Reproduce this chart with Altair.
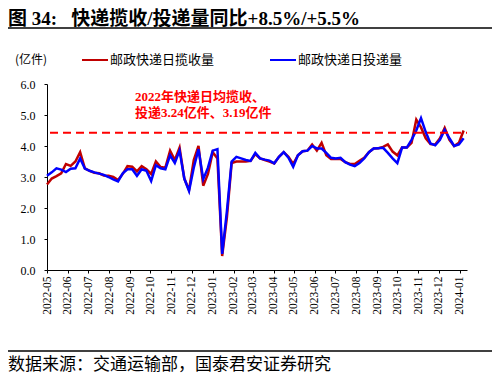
import altair as alt
import pandas as pd

# ---------------- data ----------------
start_date = "2022-05-01"
collect = [2.76, 2.95, 3.03, 3.12, 3.42, 3.36, 3.50, 3.80, 3.28, 3.20,
           3.14, 3.12, 3.05, 3.04, 3.00, 2.90, 3.10, 3.35, 3.33, 3.18,
           3.35, 3.25, 3.10, 3.50, 3.32, 3.30, 3.85, 3.55, 3.95, 2.95,
           2.58, 3.55, 4.00, 2.72, 3.10, 3.80, 3.60, 0.45, 1.70, 3.45,
           3.50, 3.50, 3.50, 3.52, 3.74, 3.60, 3.55, 3.50, 3.44, 3.65,
           3.80, 3.65, 3.42, 3.70, 3.83, 3.85, 4.05, 3.85, 4.10, 3.70,
           3.58, 3.58, 3.58, 3.48, 3.42, 3.42, 3.52, 3.62, 3.80, 3.92,
           3.93, 3.97, 4.05, 3.82, 3.70, 3.95, 3.95, 4.10, 4.85, 4.60,
           4.25, 4.06, 4.05, 4.25, 4.58, 4.20, 4.00, 4.10, 4.50]
deliver = [3.04, 3.15, 3.28, 3.24, 3.16, 3.27, 3.28, 3.60, 3.27, 3.20,
           3.15, 3.11, 3.07, 3.00, 2.92, 2.86, 3.12, 3.25, 3.25, 3.04,
           3.25, 3.20, 2.87, 3.38, 3.28, 3.25, 3.70, 3.45, 3.85, 2.95,
           2.55, 3.30, 3.90, 2.93, 3.30, 3.85, 3.90, 0.52, 1.90, 3.50,
           3.65, 3.60, 3.55, 3.52, 3.78, 3.60, 3.56, 3.53, 3.44, 3.65,
           3.80, 3.62, 3.33, 3.70, 3.83, 3.85, 4.00, 3.92, 3.92, 3.78,
           3.62, 3.60, 3.62, 3.48, 3.40, 3.35, 3.45, 3.60, 3.80, 3.92,
           3.93, 3.94, 3.78, 3.60, 3.45, 3.95, 3.95, 4.20, 4.50, 4.90,
           4.45, 4.08, 4.02, 4.20, 4.52, 4.25, 4.00, 4.05, 4.25]
month_ticks = [(2022, m) for m in range(5, 13)] + [(2023, m) for m in range(1, 13)] + [(2024, 1)]
y_ticks = [0, 1, 2, 3, 4, 5, 6]
ref_value = 4.43

series_names = ["邮政快递日揽收量", "邮政快递日投递量"]
title_text = "图\u00a034:\u00a0\u00a0\u00a0快递揽收/投递量同比+8.5%/+5.5%"
unit_text = "(亿件)"
note_line1 = "2022年快递日均揽收、"
note_line2 = "投递3.24亿件、3.19亿件"
source_text = "数据来源：交通运输部，国泰君安证券研究"

RED = "#C00000"
BLUE = "#0000FF"
SERIF = "Liberation Serif, Noto Sans CJK SC"
CJK = "Noto Sans CJK SC"

dates = pd.date_range(start_date, periods=len(collect), freq="7D")
df = pd.DataFrame({"date": dates, "collect": collect, "deliver": deliver})

W, H = 420, 186

x_enc = alt.X(
    "date:T",
    scale=alt.Scale(domain=[alt.DateTime(year=2022, month=5, date=1),
                            alt.DateTime(year=2024, month=1, date=12)]),
    axis=alt.Axis(values=[alt.DateTime(year=y, month=m, date=1) for y, m in month_ticks],
                  format="%Y-%m", labelAngle=-90, title=None, grid=False,
                  tickSize=3, labelPadding=3, labelFontSize=11.5),
)
y_axis = alt.Axis(values=y_ticks, format=".1f", title=None, grid=False,
                  tickSize=3, labelPadding=9, labelFontSize=12)
y_scale = alt.Scale(domain=[0, 6])

base = alt.Chart(df)
red_line = base.mark_line(color=RED, strokeWidth=2.5).encode(
    x=x_enc, y=alt.Y("collect:Q", scale=y_scale, axis=y_axis))
blue_line = base.mark_line(color=BLUE, strokeWidth=2.5).encode(
    x=x_enc, y=alt.Y("deliver:Q", scale=y_scale, axis=y_axis))

dash = alt.Chart(pd.DataFrame({"v": [ref_value]})).mark_rule(
    color="#FF0000", strokeDash=[8, 5], strokeWidth=2).encode(
    y=alt.Y("v:Q", scale=y_scale, axis=y_axis), x=alt.value(3), x2=alt.value(W))


def label(txt, x, y, size, color="black", weight="normal", font=CJK):
    return alt.Chart(pd.DataFrame({"t": [txt]})).mark_text(
        align="left", baseline="middle", fontSize=size, color=color,
        fontWeight=weight, font=font).encode(
        text="t:N", x=alt.value(x), y=alt.value(y))


def hline(x1, x2, y, color="black", width=1.5):
    return alt.Chart(pd.DataFrame({"a": [0]})).mark_rule(
        color=color, strokeWidth=width).encode(
        x=alt.value(x1), x2=alt.value(x2), y=alt.value(y))


layers = [
    red_line, blue_line, dash,
    label(title_text, -39, -65, 19, weight="bold", font=SERIF),
    hline(-42, 448, -56, width=1.5),
    label(unit_text, -32, -24, 12),
    hline(35, 61, -24, color=RED, width=2),
    label(series_names[0], 63, -24, 13),
    hline(223, 249, -24, color=BLUE, width=2),
    label(series_names[1], 251, -24, 13),
    label(note_line1, 88, 13, 13, color="#FF0000", weight="bold", font=SERIF),
    label(note_line2, 88, 29, 13, color="#FF0000", weight="bold", font=SERIF),
    hline(-42, 448, 267, width=1.5),
    label(source_text, -39, 281, 17),
]

chart = alt.layer(*layers).properties(
    width=W, height=H,
    autosize="none",
    padding={"left": 39, "top": 76, "right": 25, "bottom": 104},
).configure_view(stroke=None).configure_axis(
    domainColor="black", tickColor="black", labelColor="black",
    labelFont="Liberation Serif", domainWidth=1,
)

chart.save("out.html", embed_options={"renderer": "svg", "actions": False})
